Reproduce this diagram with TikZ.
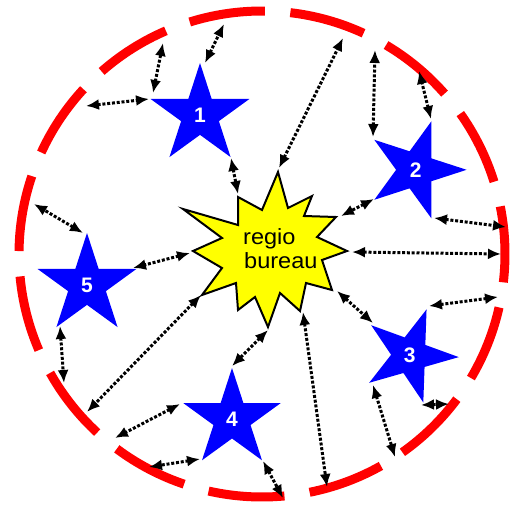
\documentclass[tikz,border=0pt]{standalone}
\usepackage{fontspec}
\setmainfont{Liberation Sans}
\newfontfamily\burstfont[FakeStretch=1.07]{Liberation Sans}
\usetikzlibrary{arrows.meta,shapes.geometric}
\definecolor{rred}{RGB}{255,0,0}
\definecolor{sblue}{RGB}{0,0,255}
\definecolor{byellow}{RGB}{255,255,0}
\begin{document}
\begin{tikzpicture}[x=1pt,y=-1pt,
  ring/.style={draw=rred,line width=9pt},
  bluestar/.style={star,star points=5,star point ratio=2.618,fill=sblue,draw=none,
    inner sep=0pt,minimum size=#1,text=white,font=\fontsize{21}{21}\selectfont\bfseries},
  link/.style={line width=3pt,dash pattern=on 3pt off 1.8pt,
    {Latex[length=13pt,width=11pt]}-{Latex[length=13pt,width=11pt]}},
  burst/.style={draw=black,line width=2pt,fill=byellow,line join=miter},
  btext/.style={font=\burstfont\fontsize{22}{24}\selectfont,anchor=base west,inner sep=0pt}]
\useasboundingbox (0,0) rectangle (511,506);
% dashed red ring
\coordinate (C) at (262,254);
\foreach \k in {0,...,14}{
  \pgfmathsetmacro{\ta}{-(89.3+24*\k)}
  \pgfmathsetmacro{\tb}{-(107.3+24*\k)}
  \draw[ring] (C) ++(\ta:243) arc[start angle=\ta,end angle=\tb,radius=243];
}
% burst
\draw[burst] (278,172) -- (288,208) -- (312,196) -- (304,216) -- (336,217) -- (317,237)
  -- (347,251) -- (322,260) -- (332,290) -- (306,283) -- (300,311) -- (280,293)
  -- (268,327) -- (255,297) -- (238,310) -- (236,283) -- (202,295) -- (222,268)
  -- (193,251) -- (222,238) -- (183,209) -- (238,225) -- (238,197) -- (262,210) -- cycle;
\node[btext] (t1) at (243,244) {regio};
\node[btext] (t2) at (244,268) {bureau};
% stars
\node[bluestar=104pt] (s1) at (200,115) {1};
\node[bluestar=102pt,shape border rotate=-18] (s2) at (415.6,169.8) {2};
\node[bluestar=98pt,shape border rotate=-20] (s3) at (409.8,355.4) {3};
\node[bluestar=102pt] (s4) at (232,419) {4};
\node[bluestar=104pt] (s5) at (87,285) {5};
% connectors
\foreach \n/\p/\q in {
  1/{86,106}/{149,99}, 2/{153,93}/{163,43}, 3/{205,63}/{224,24},
  4/{231,158}/{238,194}, 5/{279,168}/{343,38}, 6/{373,137}/{375,50},
  7/{431,119}/{419,71}, 8/{374,199}/{341,216}, 9/{434,218}/{506,227},
  10/{352,252}/{501,254}, 11/{337,291}/{373,323}, 12/{429,306}/{498,297},
  13/{421,405}/{449,404}, 14/{373,385}/{395,457}, 15/{303,312}/{327,487},
  16/{268,330}/{232,366}, 17/{201,295}/{87,412}, 18/{180,404}/{115,438},
  19/{200,459}/{149,467}, 20/{263,461}/{283,498}, 21/{190,253}/{133,268},
  22/{83,233}/{34,204}, 23/{60,326}/{64,383}}{
  \coordinate (p\n) at (\p);
  \coordinate (q\n) at (\q);
  \draw[link] (p\n) -- (q\n);
}
\end{tikzpicture}
\end{document}
